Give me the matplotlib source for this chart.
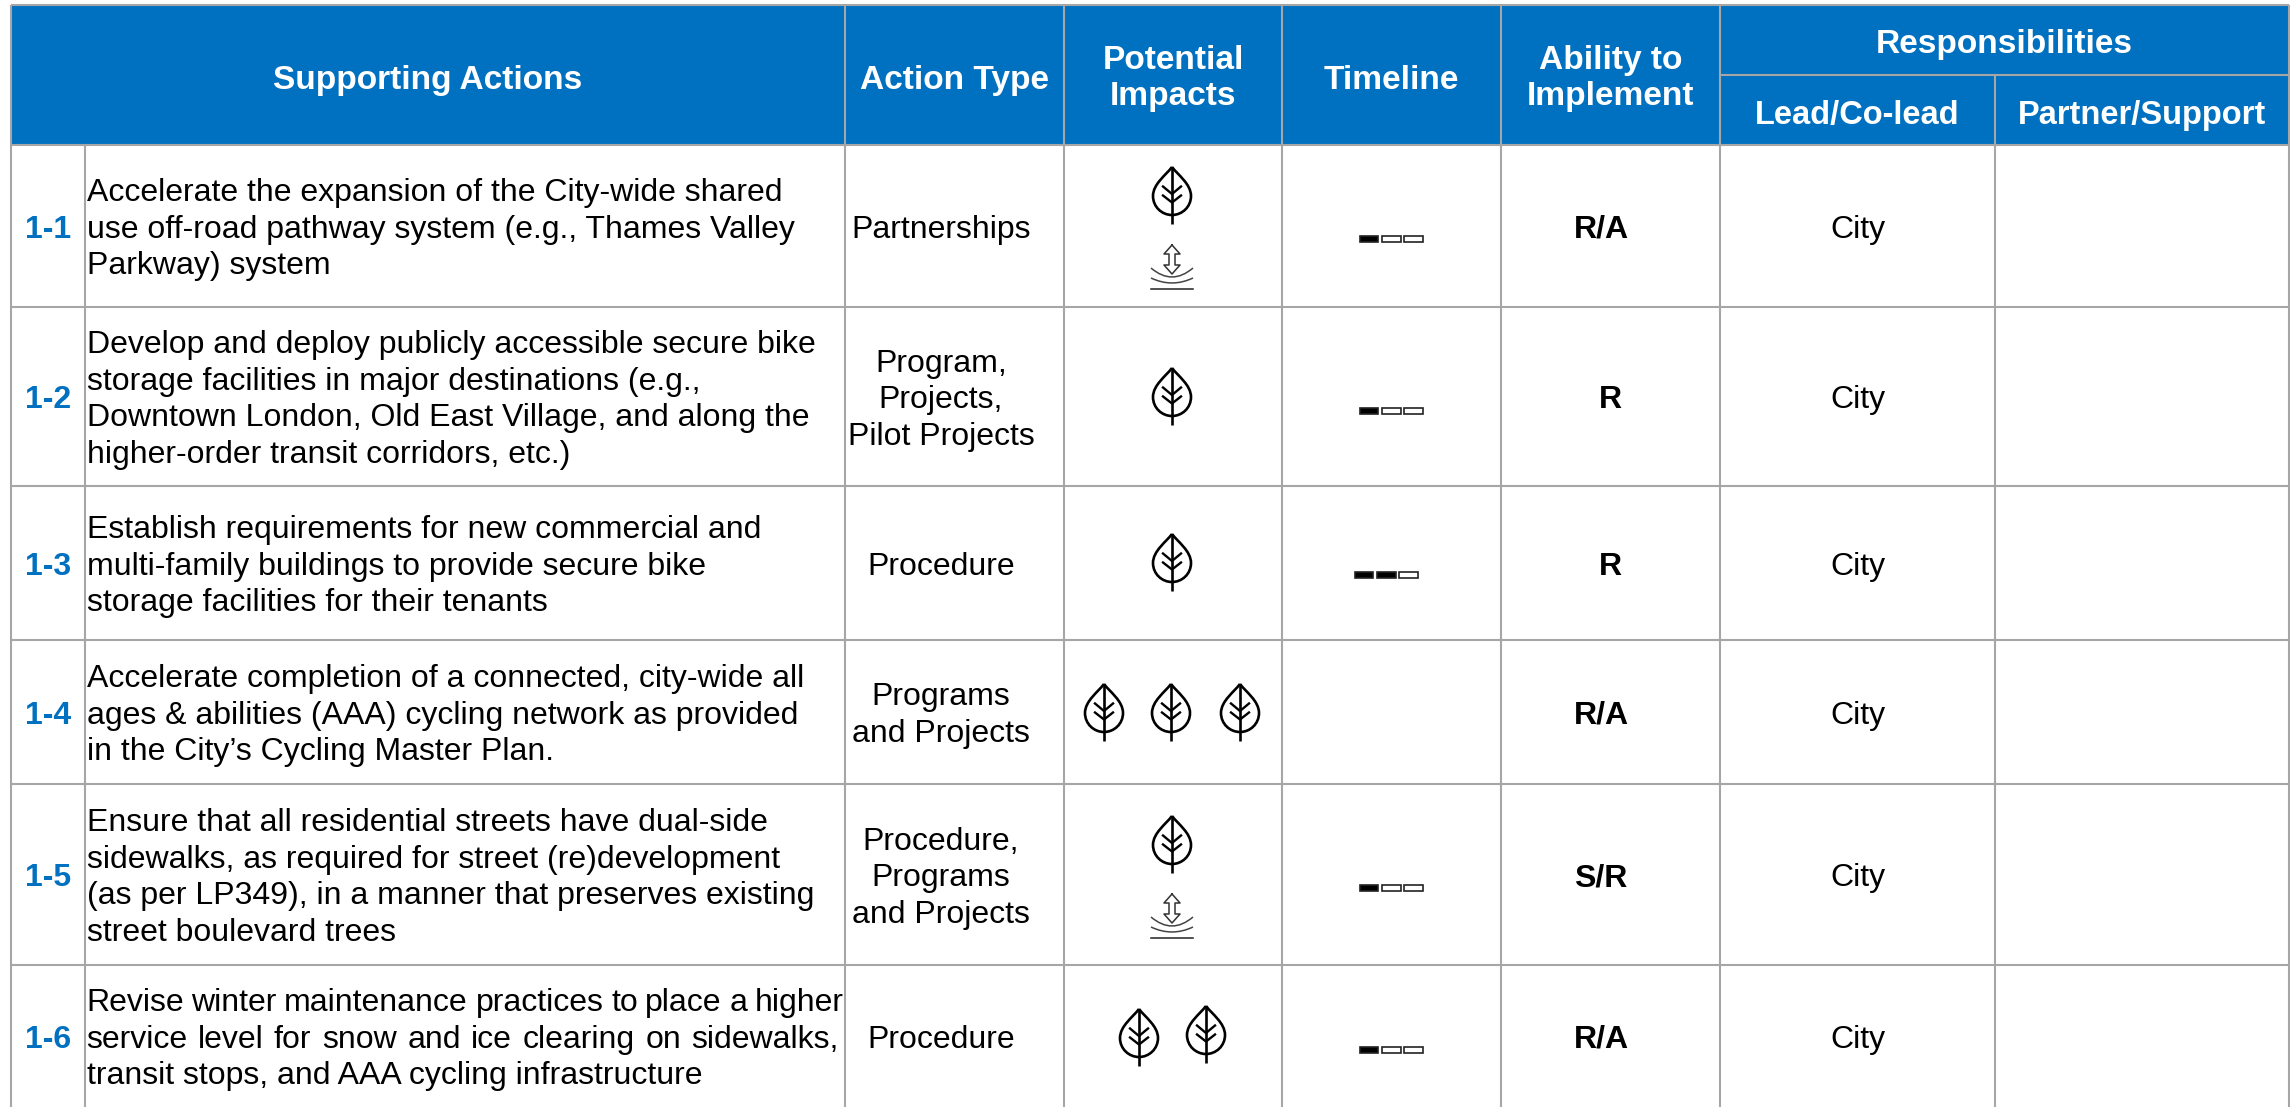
from __future__ import annotations

import matplotlib
matplotlib.use("Agg")
import matplotlib.pyplot as plt
from matplotlib.patches import PathPatch, Rectangle
from matplotlib.path import Path

plt.rcParams["font.family"] = ["Liberation Sans", "DejaVu Sans"]

BLUE = "#0070C0"
GRID = "#A6A6A6"

row_ids = ["1-1", "1-2", "1-3", "1-4", "1-5", "1-6"]
actions = [
    ["Accelerate the expansion of the City-wide shared",
     "use off-road pathway system (e.g., Thames Valley",
     "Parkway) system"],
    ["Develop and deploy publicly accessible secure bike",
     "storage facilities in major destinations (e.g.,",
     "Downtown London, Old East Village, and along the",
     "higher-order transit corridors, etc.)"],
    ["Establish requirements for new commercial and",
     "multi-family buildings to provide secure bike",
     "storage facilities for their tenants"],
    ["Accelerate completion of a connected, city-wide all",
     "ages & abilities (AAA) cycling network as provided",
     "in the City\u2019s Cycling Master Plan."],
    ["Ensure that all residential streets have dual-side",
     "sidewalks, as required for street (re)development",
     "(as per LP349), in a manner that preserves existing",
     "street boulevard trees"],
    ["Revise winter maintenance practices to place a higher",
     "service level for snow and ice clearing on sidewalks,",
     "transit stops, and AAA cycling infrastructure"],
]
action_types = [
    ["Partnerships"],
    ["Program,", "Projects,", "Pilot Projects"],
    ["Procedure"],
    ["Programs", "and Projects"],
    ["Procedure,", "Programs", "and Projects"],
    ["Procedure"],
]
timeline_filled = [1, 1, 2, None, 1, 1]
ability = ["R/A", "R", "R", "R/A", "S/R", "R/A"]
lead = ["City", "City", "City", "City", "City", "City"]

# layout, in pixels of the 2290x1107 picture
col_x = [11, 85, 845, 1064, 1282, 1501, 1720, 1995, 2289]
row_y = [145, 307, 486, 640, 784, 965, 1107]
type_x = 941
ability_x = [1601, 1610, 1610, 1601, 1601, 1601]
timeline_x = [1359, 1359, 1354, None, 1359, 1359]
timeline_y = [239, 411, 575, None, 888, 1050]
leaf_pos = [
    [(1172, 195)],
    [(1172, 396)],
    [(1172, 562)],
    [(1104, 712), (1171, 712), (1240, 712)],
    [(1172, 844)],
    [(1139, 1037), (1206, 1034)],
]
wave_pos = [(1172, 267), None, None, None, (1172, 916), None]
# right ends of the lines whose word spacing differs in the source (row, line)
fit_right = {(5, 0): 844, (5, 1): 839}
TEXT_PX = 32
LINE_PX = 36.5


def px(size: float) -> float:
    return size * 0.72


def draw_lines(ax, x, center, lines, ha="center", color="black", weight="normal", size=TEXT_PX, pitch=LINE_PX):
    n = len(lines)
    for i, line in enumerate(lines):
        y = center + (i - (n - 1) / 2) * pitch + size * 0.36
        ax.text(x, y, line, ha=ha, va="baseline", color=color, fontweight=weight, fontsize=px(size))


def draw_fitted(ax, x, y, line, right):
    # spread the words of one line so that it ends at right
    renderer = ax.figure.canvas.get_renderer()
    words = [ax.text(0, y, w, ha="left", va="baseline", fontsize=px(TEXT_PX)) for w in line.split()]
    widths = [w.get_window_extent(renderer).width for w in words]
    gap = (right - x - sum(widths)) / (len(words) - 1)
    for word, width in zip(words, widths):
        word.set_x(x)
        x += width + gap


def draw_action(ax, row, center):
    lines = actions[row]
    n = len(lines)
    for i, line in enumerate(lines):
        y = center + (i - (n - 1) / 2) * LINE_PX + TEXT_PX * 0.36
        if (row, i) in fit_right:
            draw_fitted(ax, col_x[1] + 1, y, line, fit_right[(row, i)])
        else:
            ax.text(col_x[1] + 2, y, line, ha="left", va="baseline", fontsize=px(TEXT_PX))


def draw_leaf(ax, cx, cy):
    def pt(x, y):
        return (cx + x, cy + y)

    body = Path(
        [pt(0, -28), pt(6, -20), pt(19, -11), pt(19, 1), pt(19, 12), pt(10, 20), pt(0, 20),
         pt(-10, 20), pt(-19, 12), pt(-19, 1), pt(-19, -11), pt(-6, -20), pt(0, -28)],
        [Path.MOVETO] + [Path.CURVE4] * 12,
    )
    ax.add_patch(PathPatch(body, fill=False, edgecolor="black", lw=1.9))
    ax.plot([cx, cx], [cy - 28, cy + 29], color="black", lw=1.9, solid_capstyle="butt")
    for tip, join in [(-8.5, -1), (0.5, 7.5)]:
        ax.plot([cx - 9, cx, cx + 9], [cy + tip, cy + join, cy + tip], color="black", lw=1.7)


def draw_wave(ax, cx, cy):
    top, bottom = -22, 7
    outline = [(0, top), (8, top + 9), (3, top + 9), (3, bottom - 9), (8, bottom - 9), (0, bottom),
               (-8, bottom - 9), (-3, bottom - 9), (-3, top + 9), (-8, top + 9), (0, top)]
    ax.plot([cx + x for x, _ in outline], [cy + y for _, y in outline], color="#333333", lw=1.1)
    for end, ctrl in [(1, 19), (11, 21)]:
        arc = Path([(cx - 21, cy + end), (cx, cy + ctrl), (cx + 21, cy + end)],
                   [Path.MOVETO, Path.CURVE3, Path.CURVE3])
        ax.add_patch(PathPatch(arc, fill=False, edgecolor="#444444", lw=1.1))
    ax.plot([cx - 21, cx + 21], [cy + 22, cy + 22], color="#222222", lw=1.1)


def draw_timeline(ax, x, y, filled):
    for i in range(3):
        face = "black" if i < filled else "white"
        ax.add_patch(Rectangle((x + i * 22.3 + 0.8, y - 3.3), 18.5, 6.6, facecolor=face, edgecolor="#222222", lw=1.2))


def draw_header(ax):
    ax.add_patch(Rectangle((col_x[0], 5), col_x[-1] - col_x[0], row_y[0] - 5, facecolor=BLUE, edgecolor="none"))
    hdr = dict(color="white", weight="bold", size=33.5)
    sub = dict(color="white", weight="bold", size=32.6)
    draw_lines(ax, (col_x[0] + col_x[2]) / 2, 77, ["Supporting Actions"], **hdr)
    draw_lines(ax, (col_x[2] + col_x[3]) / 2, 77, ["Action Type"], **hdr)
    draw_lines(ax, (col_x[3] + col_x[4]) / 2, 75, ["Potential", "Impacts"], **hdr)
    draw_lines(ax, (col_x[4] + col_x[5]) / 2, 77, ["Timeline"], **hdr)
    draw_lines(ax, (col_x[5] + col_x[6]) / 2, 75, ["Ability to", "Implement"], **hdr)
    draw_lines(ax, (col_x[6] + col_x[8]) / 2, 41, ["Responsibilities"], **hdr)
    draw_lines(ax, (col_x[6] + col_x[7]) / 2, 112, ["Lead/Co-lead"], **sub)
    draw_lines(ax, (col_x[7] + col_x[8]) / 2, 112, ["Partner/Support"], **sub)


def draw_grid(ax):
    kw = dict(color=GRID, lw=1.5, solid_capstyle="butt", zorder=5)
    ax.plot([col_x[0], col_x[-1]], [5, 5], **kw)
    ax.plot([col_x[6], col_x[-1]], [75, 75], **kw)
    for y in row_y[:-1]:
        ax.plot([col_x[0], col_x[-1]], [y, y], **kw)
    ax.plot([col_x[0], col_x[0]], [5, row_y[-1]], **kw)
    ax.plot([col_x[1], col_x[1]], [row_y[0], row_y[-1]], **kw)
    for x in col_x[2:7]:
        ax.plot([x, x], [5, row_y[-1]], **kw)
    ax.plot([col_x[7], col_x[7]], [75, row_y[-1]], **kw)
    ax.plot([col_x[8], col_x[8]], [5, row_y[-1]], **kw)


def main() -> None:
    fig = plt.figure(figsize=(22.9, 11.07), dpi=100)
    ax = fig.add_axes([0, 0, 1, 1])
    ax.set_xlim(0, 2290)
    ax.set_ylim(1107, 0)
    ax.axis("off")

    draw_header(ax)
    for i, rid in enumerate(row_ids):
        cy = (row_y[i] + row_y[i + 1]) / 2
        draw_lines(ax, (col_x[0] + col_x[1]) / 2, cy, [rid], color=BLUE, weight="bold")
        draw_action(ax, i, cy)
        draw_lines(ax, type_x, cy, action_types[i])
        for lx, ly in leaf_pos[i]:
            draw_leaf(ax, lx, ly)
        if wave_pos[i] is not None:
            draw_wave(ax, *wave_pos[i])
        if timeline_filled[i] is not None:
            draw_timeline(ax, timeline_x[i], timeline_y[i], timeline_filled[i])
        draw_lines(ax, ability_x[i], cy, [ability[i]], weight="bold")
        draw_lines(ax, (col_x[6] + col_x[7]) / 2, cy, [lead[i]])
    draw_grid(ax)

    fig.savefig("out.png", dpi=100)
    plt.close(fig)


if __name__ == "__main__":
    main()
